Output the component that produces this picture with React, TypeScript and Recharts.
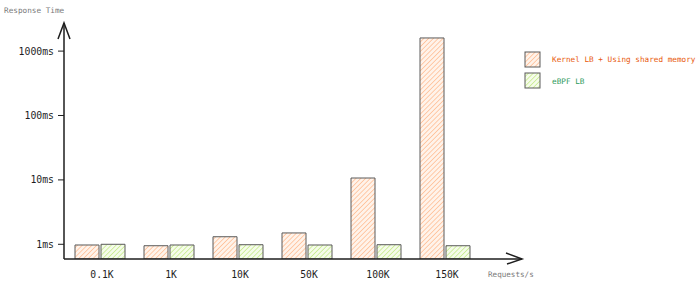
import React from 'react';
import { BarChart, Bar, XAxis, YAxis } from 'recharts';

// ---- data ----
const categories = ['0.1K', '1K', '10K', '50K', '100K', '150K'];
const kernelLB = [0.975, 0.95, 1.31, 1.5, 10.7, 1600];
const ebpfLB = [1.0, 0.975, 0.985, 0.975, 0.985, 0.95];
const yTicks = [1, 10, 100, 1000];
const yTickLabels = ['1ms', '10ms', '100ms', '1000ms'];
const seriesNames = ['Kernel LB + Using shared memory', 'eBPF LB'];
const yTitle = 'Response Time';
const xTitle = 'Requests/s';

const data = categories.map((c, i) => ({ name: c, kernel: kernelLB[i], ebpf: ebpfLB[i] }));

// ---- layout / style ----
const W = 700;
const H = 286;
const PLOT_LEFT = 64;
const PLOT_TOP = 23;
const PLOT_RIGHT = 522;
const PLOT_BOTTOM = 259;
const MONO = '"DejaVu Sans Mono", "Liberation Mono", monospace';
const INK = '#1e1e1e';
const BAR_STROKE = '#5a5a5a';
const ORANGE_TEXT = '#e8590c';
const GREEN_TEXT = '#2b9a5a';

const seriesStyles = [
  { key: 'kernel', fill: 'url(#hatchOrange)', text: ORANGE_TEXT },
  { key: 'ebpf', fill: 'url(#hatchGreen)', text: GREEN_TEXT },
];

function Decorations() {
  return (
    <g>
      <defs>
        <pattern id="hatchOrange" width="3.4" height="3.4" patternUnits="userSpaceOnUse" patternTransform="rotate(45)">
          <rect width="3.4" height="3.4" fill="#fff3ea" />
          <line x1="0" y1="0" x2="0" y2="3.4" stroke="#ffbd92" strokeWidth="1.5" />
        </pattern>
        <pattern id="hatchGreen" width="3.4" height="3.4" patternUnits="userSpaceOnUse" patternTransform="rotate(45)">
          <rect width="3.4" height="3.4" fill="#f5fcea" />
          <line x1="0" y1="0" x2="0" y2="3.4" stroke="#c4ea88" strokeWidth="1.5" />
        </pattern>
      </defs>
      {/* y axis arrowhead */}
      <path d={`M ${PLOT_LEFT - 6} ${PLOT_TOP + 16} L ${PLOT_LEFT} ${PLOT_TOP} L ${PLOT_LEFT + 6} ${PLOT_TOP + 16}`} fill="none" stroke={INK} strokeWidth={1.5} />
      {/* x axis arrowhead */}
      <path d={`M ${PLOT_RIGHT - 16} ${PLOT_BOTTOM - 6} L ${PLOT_RIGHT} ${PLOT_BOTTOM} L ${PLOT_RIGHT - 15} ${PLOT_BOTTOM + 5}`} fill="none" stroke={INK} strokeWidth={1.5} />
      <text x={4} y={10} fontFamily={MONO} fontSize={7.7} fill="#7a7a7a" dominantBaseline="central">{yTitle}</text>
      <text x={488} y={274} fontFamily={MONO} fontSize={7.6} fill="#7a7a7a" dominantBaseline="central">{xTitle}</text>
      {seriesNames.map((name, i) => (
        <g key={name}>
          <rect x={525} y={52 + i * 21} width={15} height={15} fill={seriesStyles[i].fill} stroke={BAR_STROKE} strokeWidth={1} />
          <text x={552} y={59 + i * 22} fontFamily={MONO} fontSize={7.7} fill={seriesStyles[i].text} dominantBaseline="central">{name}</text>
        </g>
      ))}
    </g>
  );
}

export default function App() {
  return (
    <div style={{ position: 'fixed', left: 0, top: 0, width: W, height: H, background: '#fff' }}>
      <BarChart
        width={W}
        height={H}
        data={data}
        margin={{ top: PLOT_TOP, right: W - PLOT_RIGHT, bottom: 0, left: 0 }}
        barSize={24}
        barGap={2}
      >
        <XAxis
          dataKey="name"
          height={H - PLOT_BOTTOM}
          padding={{ left: 1, right: 43 }}
          tickLine={false}
          tickMargin={6}
          axisLine={{ stroke: INK, strokeWidth: 1.5 }}
          tick={{ fontFamily: MONO, fontSize: 9.7, fill: INK, dx: 2.5 }}
          interval={0}
        />
        <YAxis
          type="number"
          scale="log"
          domain={[0.591, 2731]}
          allowDataOverflow
          ticks={yTicks}
          width={PLOT_LEFT}
          tickSize={6}
          tickMargin={4}
          tickLine={{ stroke: INK, strokeWidth: 1 }}
          axisLine={{ stroke: INK, strokeWidth: 1.5 }}
          tick={{ fontFamily: MONO, fontSize: 9.8, fill: INK }}
          tickFormatter={(v: number) => yTickLabels[yTicks.indexOf(v)] ?? String(v)}
        />
        <Bar dataKey="kernel" name={seriesNames[0]} fill="url(#hatchOrange)" stroke={BAR_STROKE} strokeWidth={1} isAnimationActive={false} />
        <Bar dataKey="ebpf" name={seriesNames[1]} fill="url(#hatchGreen)" stroke={BAR_STROKE} strokeWidth={1} isAnimationActive={false} />
        <Decorations />
      </BarChart>
    </div>
  );
}
